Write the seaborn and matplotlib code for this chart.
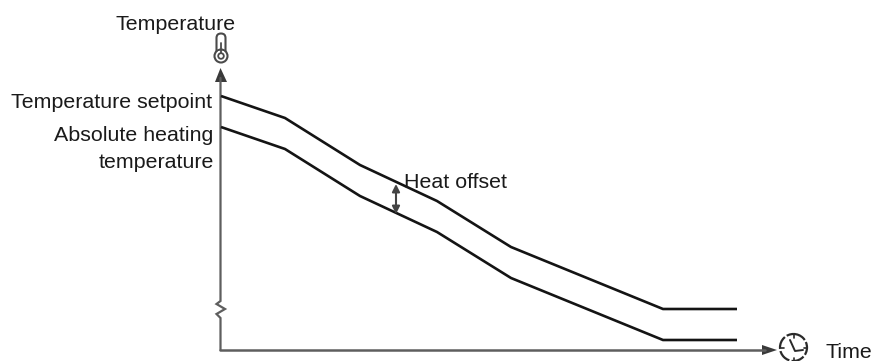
import numpy as np
import pandas as pd
import matplotlib
matplotlib.use("Agg")
import matplotlib.pyplot as plt
from matplotlib.patches import Circle, FancyBboxPatch, Polygon
import seaborn as sns

# Diagram scale: horizontal / vertical positions
time_pts = [221, 285, 360, 437, 511, 663, 737]
setpoint = [96, 118, 165, 201, 247, 309, 309]
absolute = [127, 149, 196, 232, 278, 340, 340]
series_names = ["Temperature setpoint", "Absolute heating temperature"]

sns.set_theme(style="white")
plt.rcParams['font.family'] = ['Liberation Sans', 'DejaVu Sans']

df = pd.DataFrame({
    "time": time_pts * 2,
    "temp": setpoint + absolute,
    "series": [series_names[0]] * len(time_pts) + [series_names[1]] * len(time_pts),
})

fig = plt.figure(figsize=(8.72, 3.61), dpi=100)
ax = fig.add_axes([0, 0, 1, 1])
sns.lineplot(data=df, x="time", y="temp", hue="series",
             palette=["#141414", "#141414"], linewidth=1.9, legend=False, ax=ax,
             solid_joinstyle="miter", solid_capstyle="butt", zorder=3)
ax.set_xlim(0, 872)
ax.set_ylim(361, 0)
ax.axis("off")

axc = "#5e5e5e"
# vertical axis with break
ax.plot([220.5, 220.5, 216.5, 225, 216.5, 220.5, 220.5],
        [350, 318, 314, 309, 304, 301, 78], color=axc, lw=1.6, zorder=2,
        solid_joinstyle="miter")
ax.plot([220, 765], [350, 350], color=axc, lw=1.8, zorder=2)
ax.add_patch(Polygon([[220.5, 68], [215, 82], [227, 82]], closed=True, fc="#3a3a3a", ec="none"))
ax.add_patch(Polygon([[777, 350], [762, 345], [762, 355]], closed=True, fc="#3a3a3a", ec="none"))

# Heat offset double arrow
ax.annotate("", xy=(396, 184), xytext=(396, 214),
            arrowprops=dict(arrowstyle="<|-|>", color="#444444", lw=1.5,
                            mutation_scale=11, shrinkA=0, shrinkB=0))

# Thermometer icon
ic = "#4a4a4a"
ax.add_patch(FancyBboxPatch((216.5, 33.5), 9, 24, boxstyle="round,pad=0,rounding_size=4.5",
                            fc="white", ec=ic, lw=1.5, zorder=4))
ax.add_patch(Circle((221, 56), 6.5, fc="white", ec=ic, lw=1.5, zorder=5))
ax.add_patch(Polygon([[217.6, 51], [224.4, 51], [224.4, 58], [217.6, 58]], fc="white", ec="none", zorder=5))
ax.add_patch(Circle((221, 56), 2.8, fc="white", ec=ic, lw=1.3, zorder=6))
ax.plot([221, 221], [43, 53], color=ic, lw=1.3, zorder=6)

# Clock icon
cx, cy = 793.5, 347.5
ax.add_patch(Circle((cx, cy), 13.5, fc="white", ec="#2a2a2a", lw=1.6, ls=(0, (6, 1)), zorder=4))
ax.plot([790, 795, 803], [340, 351, 350], color="#2a2a2a", lw=1.4, zorder=5)
for a in np.deg2rad([0, 90, 180, 270]):
    ax.plot([cx + 10 * np.cos(a), cx + 13 * np.cos(a)],
            [cy + 10 * np.sin(a), cy + 13 * np.sin(a)], color="#2a2a2a", lw=1.2, zorder=5)

fs = 15.4
tc = "#1a1a1a"
ax.text(115, 30, "Temperature", ha="left", va="baseline", fontsize=fs, color=tc)
ax.text(212, 108, "Temperature setpoint", ha="right", va="baseline", fontsize=fs, color=tc)
ax.text(213.5, 141, "Absolute heating", ha="right", va="baseline", fontsize=fs, color=tc)
ax.text(213.5, 168, "temperature", ha="right", va="baseline", fontsize=fs, color=tc)
ax.text(404, 188, "Heat offset", ha="left", va="baseline", fontsize=fs, color=tc)
ax.text(825, 358, "Time", ha="left", va="baseline", fontsize=fs, color=tc)

fig.savefig("out.png", dpi=100)
